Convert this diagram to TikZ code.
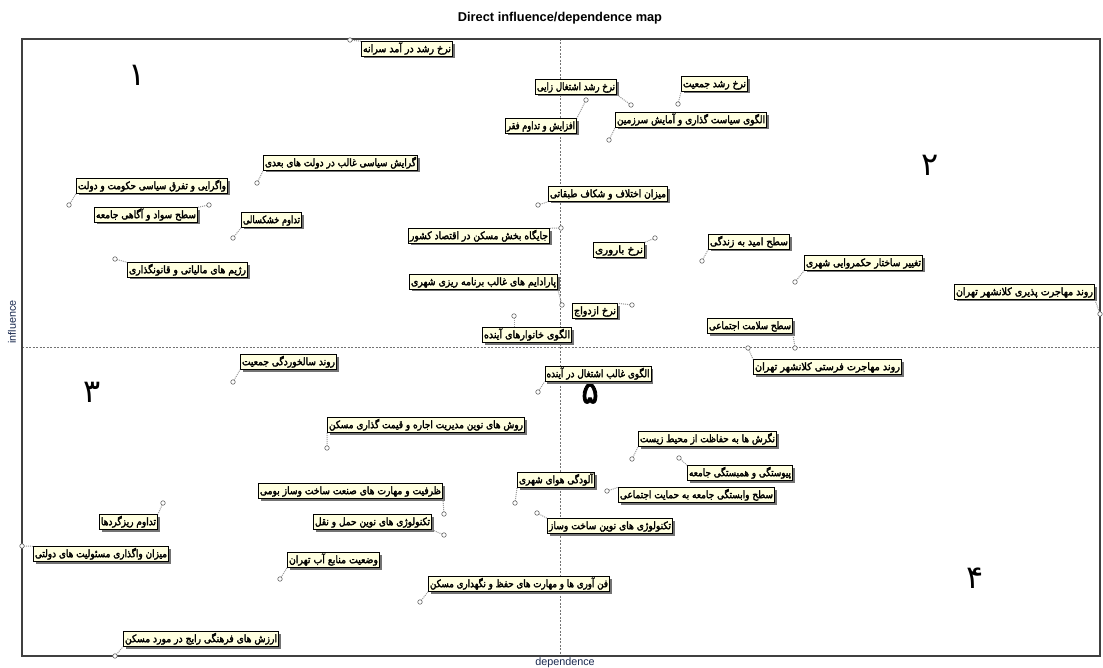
\documentclass[tikz,border=0pt]{standalone}
\usepackage{fontspec}
\usepackage{graphicx}
\usetikzlibrary{shadows}
\TeXXeTstate=1
\newfontfamily\arabicfont[Script=Arabic]{DejaVu Sans}
\newfontfamily\arabicbold[Script=Arabic, FakeBold=2.6]{DejaVu Sans}
\newfontfamily\latfont{Liberation Sans}
\definecolor{boxfill}{HTML}{FFFFE0}
\definecolor{framecol}{HTML}{404040}
\definecolor{axtext}{HTML}{1A2A50}
\newcommand{\fa}[2]{\resizebox{#1pt}{\height}{#2}}
\newcommand{\varlab}[8]{%
  \coordinate (c#1) at (#5,#6);
  \node[lbl] (n#1) at (#2,#3) {\fa{#4}{#8}};
  \draw[con] (c#1) -- (#7);
  \node[vpt] (p#1) at (c#1) {};
}
\tikzset{
  lbl/.style={draw=black, line width=0.8pt, fill=boxfill, inner xsep=1.5pt, inner ysep=1.3pt,
    text height=9.2pt, text depth=2.8pt,
    font=\arabicbold\fontsize{10.4}{12}\selectfont,
    drop shadow={shadow xshift=2.2pt, shadow yshift=-2.2pt, fill=black!55, opacity=1}},
  vpt/.style={circle, draw=black!60, fill=white, line width=0.6pt, inner sep=0pt, minimum size=4.5pt},
  con/.style={draw=black!40, densely dotted, line width=1pt},
  axdash/.style={draw=black!55, dash pattern=on 2pt off 1.5pt, line width=0.5pt},
  qd/.style={font=\arabicfont\fontsize{32}{34}\selectfont, inner sep=0pt}
}
\begin{document}
\begin{tikzpicture}[x=1pt, y=-1pt]
\useasboundingbox[fill=white] (0,0) rectangle (1103,668);
% axes
\draw[axdash] (560,39) -- (560,656);
\draw[axdash] (22,347) -- (1100,347);
\draw[framecol, line width=1.1pt] (22,39) rectangle (1100,656);
% titles
\node[font=\latfont\bfseries\fontsize{12.8}{15}\selectfont] (title) at (560,18) {Direct influence/dependence map};
\node[rotate=90, font=\latfont\fontsize{10.8}{12}\selectfont, text=axtext] (infl) at (12,322) {influence};
\node[font=\latfont\fontsize{10.8}{12}\selectfont, text=axtext] (dep) at (565,663) {dependence};
% quadrant numbers
\node[qd] (q1) at (137,75) {۱};
\node[qd] (q2) at (930,165) {۲};
\node[qd] (q3) at (92,392) {۳};
\node[qd] (q4) at (975,578) {۴};
\node[qd, font=\arabicbold\fontsize{32}{34}\selectfont, anchor=north] (q5) at (590,382.5) {۵};
% variables
\varlab{1}{407}{49}{88}{350}{40}{n1.north west}{\beginR نرخ رشد در آمد سرانه\endR}
\varlab{2}{576}{87}{78}{631}{105}{n2.south east}{\beginR نرخ رشد اشتغال زایی\endR}
\varlab{3}{714.5}{84}{63}{678}{104}{n3.south west}{\beginR نرخ رشد جمعیت\endR}
\varlab{4}{691}{120}{148}{609}{140}{n4.south west}{\beginR الگوی سیاست گذاری و آمایش سرزمین\endR}
\varlab{5}{541}{126}{68}{586}{100}{n5.north east}{\beginR افزایش و تداوم فقر\endR}
\varlab{6}{340.5}{163}{151}{257}{183}{n6.south west}{\beginR گرایش سیاسی غالب در دولت های بعدی\endR}
\varlab{7}{152}{186}{148}{69}{205}{n7.south west}{\beginR واگرایی و تفرق سیاسی حکومت و دولت\endR}
\varlab{8}{146}{215}{100}{209}{205}{n8.north east}{\beginR سطح سواد و آگاهی جامعه\endR}
\varlab{9}{271.5}{220}{57}{233}{238}{n9.south west}{\beginR تداوم خشکسالی\endR}
\varlab{10}{187.5}{270}{117}{115}{259}{n10.north west}{\beginR رژیم های مالیاتی و قانونگذاری\endR}
\varlab{11}{608}{194}{116}{538}{205}{n11.south west}{\beginR میزان اختلاف و شکاف طبقاتی\endR}
\varlab{12}{479}{236}{138}{561}{228}{n12.north east}{\beginR جایگاه بخش مسکن در اقتصاد کشور\endR}
\varlab{13}{619}{250}{48}{655}{238}{n13.north east}{\beginR نرخ باروری\endR}
\varlab{14}{483.5}{282}{145}{562}{305}{n14.south east}{\beginR پارادایم های غالب برنامه ریزی شهری\endR}
\varlab{15}{595}{311}{42}{632}{305}{n15.north east}{\beginR نرخ ازدواج\endR}
\varlab{16}{527}{335}{86}{514}{316}{c16 |- n16.north}{\beginR الگوی خانوارهای آینده\endR}
\varlab{17}{749}{242}{78}{702}{261}{n17.south west}{\beginR سطح امید به زندگی\endR}
\varlab{18}{863.5}{263}{115}{795}{282}{n18.south west}{\beginR تغییر ساختار حکمروایی شهری\endR}
\varlab{19}{1024.5}{292}{137}{1100}{314}{n19.south east}{\beginR روند مهاجرت پذیری کلانشهر تهران\endR}
\varlab{20}{750}{326}{82}{795}{348}{n20.south east}{\beginR سطح سلامت اجتماعی\endR}
\varlab{21}{827.5}{367}{145}{748}{348}{n21.north west}{\beginR روند مهاجرت فرستی کلانشهر تهران\endR}
\varlab{22}{288.5}{362}{93}{233}{382}{n22.south west}{\beginR روند سالخوردگی جمعیت\endR}
\varlab{23}{598}{374}{103}{538}{392}{n23.south west}{\beginR الگوی غالب اشتغال در آینده\endR}
\varlab{24}{426}{425}{194}{327}{448}{n24.south west}{\beginR روش های نوین مدیریت اجاره و قیمت گذاری مسکن\endR}
\varlab{25}{707.5}{439}{135}{632}{459}{n25.south west}{\beginR نگرش ها به حفاظت از محیط زیست\endR}
\varlab{26}{740}{473}{102}{679}{458}{n26.north west}{\beginR پیوستگی و همبستگی جامعه\endR}
\varlab{27}{696.5}{495}{153}{607}{491}{n27.north west}{\beginR سطح وابستگی جامعه به حمایت اجتماعی\endR}
\varlab{28}{556}{480}{74}{515}{503}{n28.south west}{\beginR آلودگی هوای شهری\endR}
\varlab{29}{350.5}{491}{181}{444}{514}{n29.south east}{\beginR ظرفیت و مهارت های صنعت ساخت وساز بومی\endR}
\varlab{30}{372.5}{522}{115}{444}{535}{n30.south east}{\beginR تکنولوژی های نوین حمل و نقل\endR}
\varlab{31}{610}{526}{122}{537}{513}{n31.north west}{\beginR تکنولوژی های نوین ساخت وساز\endR}
\varlab{32}{128.5}{522}{55}{163}{503}{n32.north east}{\beginR تداوم ریزگردها\endR}
\varlab{33}{101}{554}{132}{22}{546}{n33.north west}{\beginR میزان واگذاری مسئولیت های دولتی\endR}
\varlab{34}{333.5}{560}{89}{280}{579}{n34.south west}{\beginR وضعیت منابع آب تهران\endR}
\varlab{35}{201}{639}{152}{115}{656}{n35.south west}{\beginR ارزش های فرهنگی رایج در مورد مسکن\endR}
\varlab{36}{519}{584}{178}{420}{602}{n36.south west}{\beginR فن آوری ها و مهارت های حفظ و نگهداری مسکن\endR}
\end{tikzpicture}
\end{document}
